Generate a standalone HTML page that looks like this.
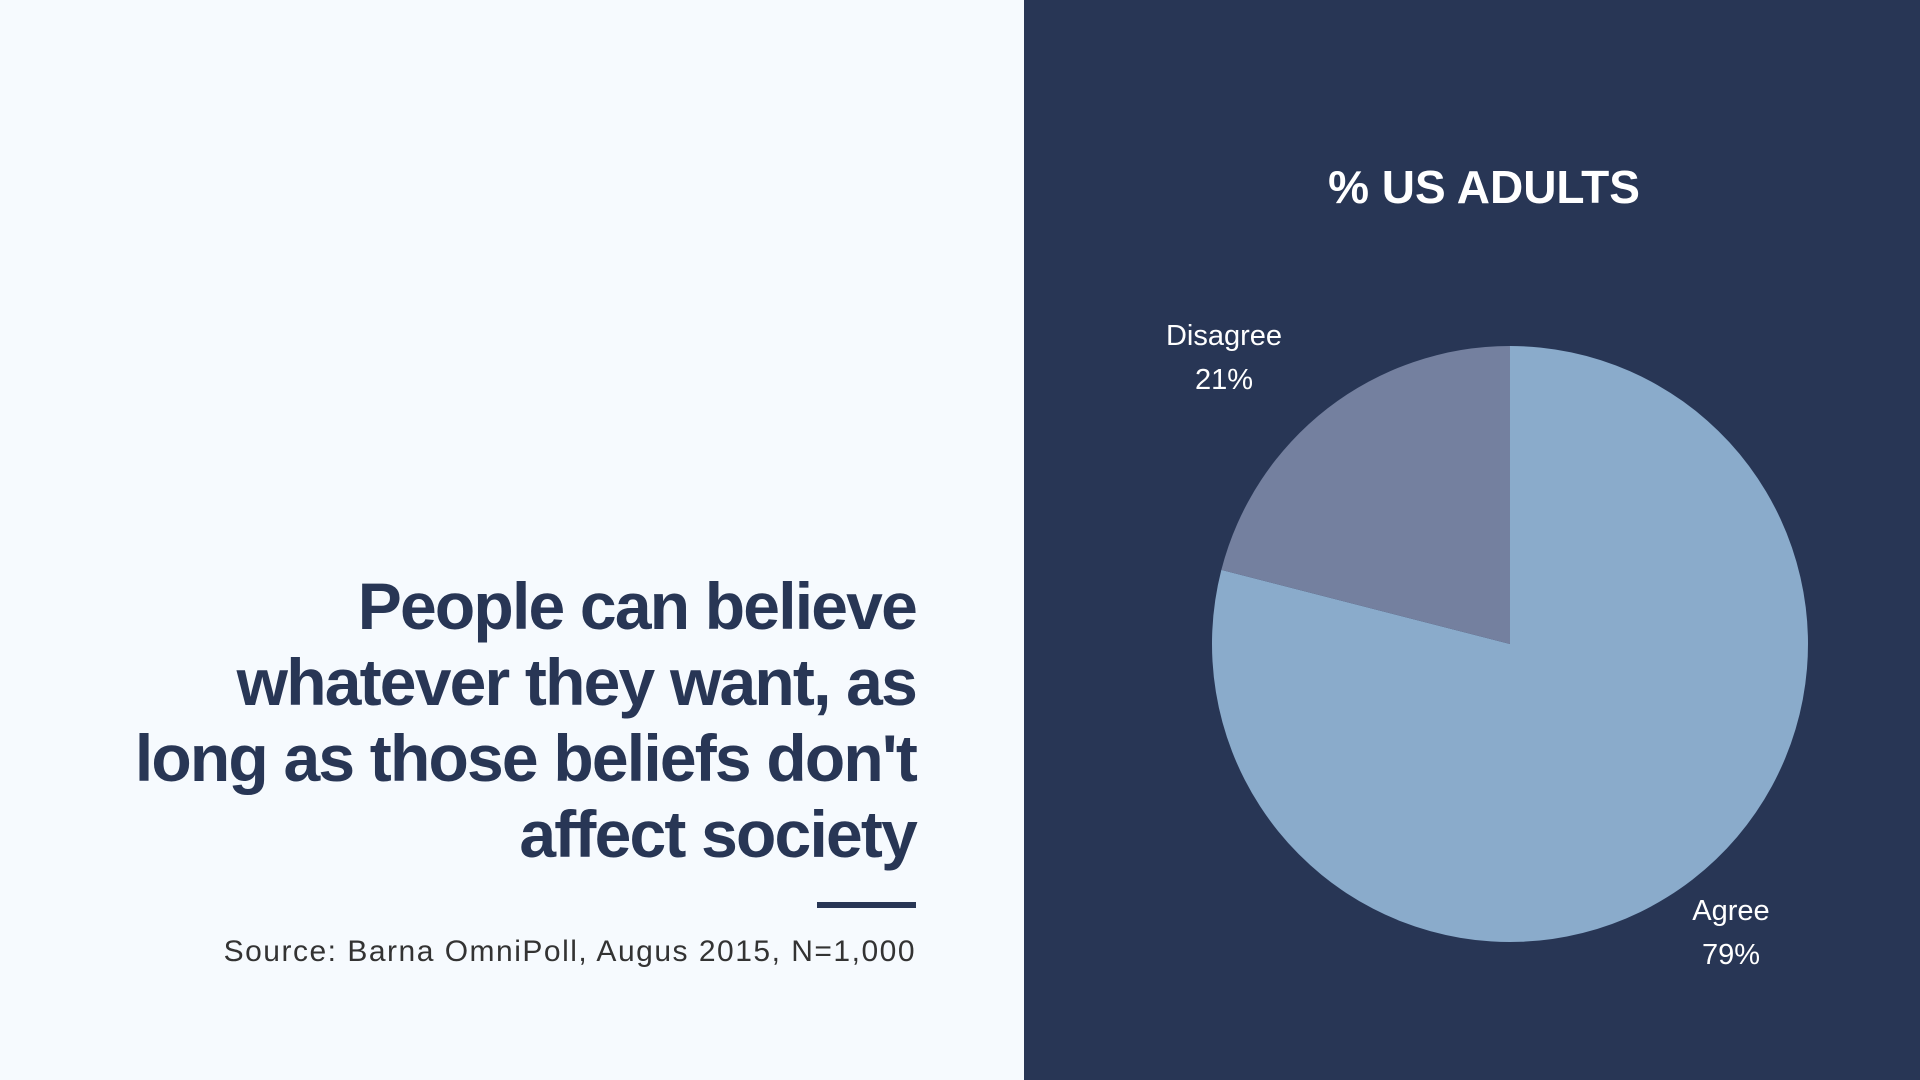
<!DOCTYPE html>
<html><head><meta charset="utf-8"><style>
html,body{margin:0;padding:0;width:1920px;height:1080px;overflow:hidden;font-family:"Liberation Sans",sans-serif}
#left{position:absolute;left:0;top:0;width:1024px;height:1080px;background:#f6fafe}
#right{position:absolute;left:1024px;top:0;width:896px;height:1080px;background:#283655}
#headline{position:absolute;right:108px;top:568px;width:900px;text-align:right;font-weight:bold;font-size:66px;line-height:76px;color:#283655;letter-spacing:-1.8px}
#rule{position:absolute;left:817px;top:902px;width:99px;height:6px;background:#283655}
#source{position:absolute;right:108px;top:935px;font-size:30px;color:#333;white-space:nowrap;letter-spacing:1.5px}
</style></head><body>
<div id="left">
<div id="headline">People can believe<br>whatever they want, as<br>long as those beliefs don't<br>affect society</div>
<div id="rule"></div>
<div id="source">Source: Barna OmniPoll, Augus 2015, N=1,000</div>
</div>
<div id="right"></div>
<svg id="chart" width="1920" height="1080" style="position:absolute;left:0;top:0">
<text x="1484" y="203" text-anchor="middle" font-family="Liberation Sans, sans-serif" font-weight="bold" font-size="46" fill="#fff">% US ADULTS</text>
<g id="slices"></g><g id="labels"></g>
</svg>
<script>
const categories=["Agree","Disagree"];
const values=[79,21];
const colors=["#8aabcb","#74809f"];
const cx=1510,cy=644,r=298;
const ns="http://www.w3.org/2000/svg";
const total=values.reduce((a,b)=>a+b,0);
const g=document.getElementById('slices'),lg=document.getElementById('labels');
const labelPos=[[1731,920],[1224,345]];
let a0=0;
values.forEach((v,i)=>{
  const a1=a0+v/total*2*Math.PI;
  const p=(a)=>[cx+r*Math.sin(a),cy-r*Math.cos(a)];
  const [x0,y0]=p(a0),[x1,y1]=p(a1);
  const path=document.createElementNS(ns,'path');
  path.setAttribute('d',`M${cx},${cy}L${x0},${y0}A${r},${r} 0 ${a1-a0>Math.PI?1:0} 1 ${x1},${y1}Z`);
  path.setAttribute('fill',colors[i]);
  
  
  g.appendChild(path);
  const t=document.createElementNS(ns,'text');
  t.setAttribute('x',labelPos[i][0]);t.setAttribute('y',labelPos[i][1]);
  t.setAttribute('text-anchor','middle');t.setAttribute('fill','#fff');
  t.setAttribute('font-size','29');t.setAttribute('font-family','Liberation Sans, sans-serif');
  
  
  const s1=document.createElementNS(ns,'tspan');s1.setAttribute('x',labelPos[i][0]);s1.textContent=categories[i];
  const s2=document.createElementNS(ns,'tspan');s2.setAttribute('x',labelPos[i][0]);s2.setAttribute('dy','44');s2.textContent=v+'%';
  t.appendChild(s1);t.appendChild(s2);lg.appendChild(t);
  a0=a1;
});
</script>
</body></html>
